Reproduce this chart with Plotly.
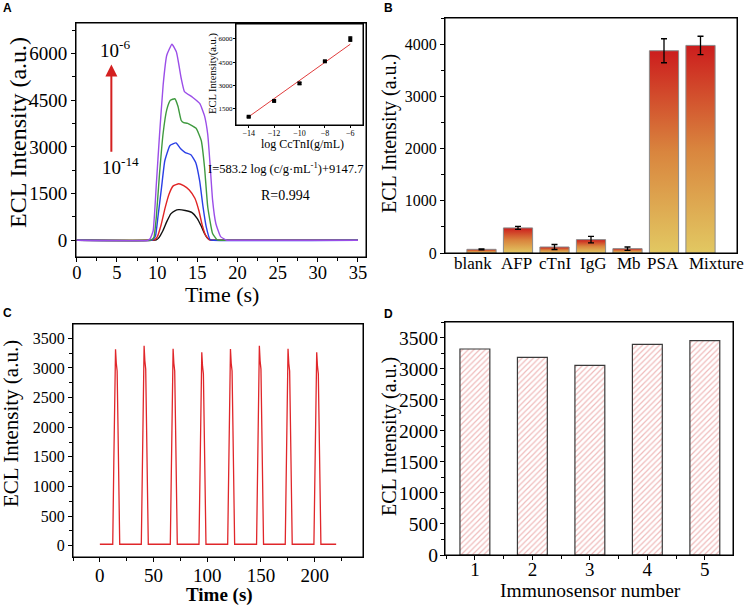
import plotly.graph_objects as go

# ---------------- Panel A: ECL curves at different cTnI concentrations ----------------
a_black_t = [0, 9.5, 9.9, 10.2, 10.7, 11.2, 11.7, 12.2, 12.7, 13.5, 14.3, 15.0, 15.5, 15.9, 16.3, 16.8, 17.2, 35]
a_black_v = [0, 0, 15, 80, 300, 600, 850, 950, 985, 960, 900, 700, 450, 220, 60, 8, 0, 0]
a_red_t = [0, 9.3, 9.7, 10.0, 10.5, 11.0, 11.5, 12.0, 12.7, 13.3, 14.0, 14.7, 15.2, 15.6, 16.0, 16.5, 16.9, 35]
a_red_v = [0, 0, 20, 100, 500, 1050, 1500, 1750, 1820, 1760, 1620, 1350, 950, 500, 180, 10, 0, 0]
a_blue_t = [0, 9.2, 9.5, 9.8, 10.1, 10.55, 10.95, 11.6, 12.35, 12.9, 13.5, 14.2, 14.8, 15.3, 15.7, 16.1, 16.6, 17.0, 35]
a_blue_v = [0, 0, 30, 150, 750, 1700, 2550, 3050, 3130, 2950, 2820, 2750, 2500, 1900, 1100, 450, 20, 0, 0]
a_green_t = [0, 9.0, 9.3, 9.6, 9.9, 10.3, 10.75, 11.2, 11.65, 12.2, 12.6, 13.0, 13.3, 13.8, 14.85, 15.5, 15.9, 16.3, 16.9, 17.5, 17.9, 35]
a_green_v = [0, 0, 20, 100, 750, 2150, 3450, 4200, 4500, 4550, 4300, 3850, 3780, 3760, 3600, 3200, 2350, 1070, 220, 10, 0, 0]
a_purple_t = [0, 8.8, 9.1, 9.5, 9.9, 10.3, 10.75, 11.2, 11.85, 12.4, 13.0, 13.4, 14.4, 15.3, 15.9, 16.3, 16.6, 16.9, 17.3, 17.9, 18.6, 19.0, 35]
a_purple_v = [0, 0, 40, 300, 1800, 3400, 5000, 5950, 6300, 6050, 5200, 4780, 4600, 4400, 4000, 3400, 2400, 1300, 550, 120, 10, 0, 0]

# inset calibration
inset_logc = [-14, -12, -10, -8, -6]
inset_int = [980, 2000, 3130, 4550, 5980]
inset_err = [40, 50, 60, 40, 150]
fit_logc = [-14, -6]
fit_int = [980, 5650]

# ---------------- Panel B: selectivity ----------------
b_categories = ["blank", "AFP", "cTnI", "IgG", "Mb", "PSA", "Mixture"]
b_values = [70, 480, 115, 256, 83, 3873, 3975]
b_errors = [10, 29, 48, 64, 32, 230, 176]

# ---------------- Panel C: stability ----------------
c_time = [0,
          12.0, 13.0, 14.0, 14.6, 15.3, 16.1, 16.9, 17.7, 18.5,
          38.6, 39.6, 40.6, 41.2, 41.9, 42.7, 43.5, 44.3, 45.1,
          65.6, 66.6, 67.6, 68.2, 68.9, 69.7, 70.5, 71.3, 72.1,
          92.3, 93.3, 94.3, 94.9, 95.6, 96.4, 97.2, 98.0, 98.8,
          119.0, 120.0, 121.0, 121.6, 122.3, 123.1, 123.9, 124.7, 125.5,
          145.9, 146.9, 147.9, 148.5, 149.2, 150.0, 150.8, 151.6, 152.4,
          172.6, 173.6, 174.6, 175.2, 175.9, 176.7, 177.5, 178.3, 179.1,
          199.3, 200.3, 201.3, 201.9, 202.6, 203.4, 204.2, 205.0, 205.8,
          220]
c_int = [25,
         25, 1400, 2950, 3315, 3080, 2950, 2000, 600, 25,
         25, 1400, 3000, 3376, 3120, 2980, 2000, 600, 25,
         25, 1400, 2950, 3325, 3080, 2950, 2000, 600, 25,
         25, 1400, 2900, 3265, 3030, 2900, 1950, 600, 25,
         25, 1400, 2950, 3320, 3080, 2950, 2000, 600, 25,
         25, 1400, 3000, 3376, 3120, 2980, 2000, 600, 25,
         25, 1400, 2950, 3325, 3080, 2950, 2000, 600, 25,
         25, 1400, 2900, 3265, 3030, 2900, 1950, 600, 25,
         25]

# ---------------- Panel D: reproducibility ----------------
d_sensor = [1, 2, 3, 4, 5]
d_int = [3318, 3184, 3055, 3393, 3452]

SERIF = "Liberation Serif"
SANS = "Liberation Sans"

fig = go.Figure()

# Panel A traces
for t, v, col in [(a_black_t, a_black_v, "#111111"), (a_red_t, a_red_v, "#e02424"),
                  (a_blue_t, a_blue_v, "#2a3fe6"), (a_green_t, a_green_v, "#3f9a3f"),
                  (a_purple_t, a_purple_v, "#9b4ee8")]:
    fig.add_trace(go.Scatter(x=t, y=v, mode="lines", line=dict(color=col, width=1.4, shape="spline", smoothing=0.4),
                             xaxis="x", yaxis="y", showlegend=False))

# Inset
fig.add_trace(go.Scatter(x=fit_logc, y=fit_int, mode="lines", line=dict(color="#e03c3c", width=1),
                         xaxis="x2", yaxis="y2", showlegend=False))
fig.add_trace(go.Scatter(x=inset_logc, y=inset_int, mode="markers",
                         marker=dict(symbol="square", size=4, color="black"),
                         error_y=dict(type="data", array=inset_err, color="black", thickness=1, width=2),
                         xaxis="x2", yaxis="y2", showlegend=False))

# Panel B gradient bars
bw = 0.8
for i, v in enumerate(b_values):
    fig.add_trace(go.Scatter(x=[i - bw / 2, i - bw / 2, i + bw / 2, i + bw / 2, i - bw / 2],
                             y=[0, v, v, 0, 0], mode="lines", fill="toself",
                             line=dict(color="#8a8a8a", width=1),
                             fillgradient=dict(type="vertical",
                                               colorscale=[[0, "#e2c862"], [0.5, "#d9853e"], [1, "#cc1d1d"]]),
                             xaxis="x3", yaxis="y3", showlegend=False, hoverinfo="skip"))
fig.add_trace(go.Scatter(x=list(range(len(b_values))), y=b_values, mode="markers",
                         marker=dict(size=1, color="rgba(0,0,0,0)"),
                         error_y=dict(type="data", array=b_errors, color="black", thickness=1.3, width=3),
                         xaxis="x3", yaxis="y3", showlegend=False))

# Panel C
fig.add_trace(go.Scatter(x=c_time, y=c_int, mode="lines", line=dict(color="#e0262a", width=1.3),
                         xaxis="x4", yaxis="y4", showlegend=False))

# Panel D
fig.add_trace(go.Bar(x=d_sensor, y=d_int, width=0.52,
                     marker=dict(color="white", line=dict(color="#3a3a3a", width=1.2),
                                 pattern=dict(shape="/", fgcolor="#e07878", bgcolor="white", size=4, solidity=0.3)),
                     xaxis="x5", yaxis="y5", showlegend=False))


def ax(domain, anchor, rng, tickfont, **kw):
    d = dict(domain=domain, anchor=anchor, range=rng, showline=True, linecolor="black", linewidth=1,
             mirror=True, ticks="outside", ticklen=4, tickcolor="black", showgrid=False, zeroline=False,
             tickfont=dict(family=SERIF, size=tickfont, color="black"), automargin=False)
    d.update(kw)
    return d


W, H = 747, 606
def px(x0, x1):
    return [x0 / W, x1 / W]
def py(top, bottom):
    return [1 - bottom / H, 1 - top / H]

def mn(dt, t0=0):
    return dict(ticks="outside", ticklen=3, dtick=dt, tick0=t0, tickcolor="black", showgrid=False)

fig.update_layout(
    width=W, height=H, margin=dict(l=0, r=0, t=0, b=0),
    paper_bgcolor="white", plot_bgcolor="white",
    font=dict(family=SERIF, color="black"),
    xaxis=ax(px(76, 366), "y", [-0.1, 36], 18.5, tickvals=[0, 5, 10, 15, 20, 25, 30, 35], minor=mn(2.5),
             ticklabelstandoff=-5),
    yaxis=ax(py(23, 257), "x", [-536, 6984], 19, tickvals=[0, 1500, 3000, 4500, 6000], minor=mn(750)),
    xaxis2=ax(px(236, 363), "y2", [-15, -5], 8, tickvals=[-14, -12, -10, -8, -6], ticklen=2,
              ticklabelstandoff=-2),
    yaxis2=ax(py(24, 125), "x2", [450, 6950], 7, tickvals=[1500, 3000, 4500, 6000], ticklen=2,
              ticklabelstandoff=-1),
    xaxis3=ax(px(445, 737), "y3", [-1, 7], 17, tickvals=list(range(len(b_categories))),
              showticklabels=False, ticks=""),
    yaxis3=ax(py(18, 253), "x3", [0, 4500], 16, tickvals=[0, 1000, 2000, 3000, 4000], minor=mn(500)),
    xaxis4=ax(px(73, 363), "y4", [-25, 245], 19, tickvals=[0, 50, 100, 150, 200], minor=mn(25),
              ticklabelstandoff=-3),
    yaxis4=ax(py(324, 557), "x4", [-190, 3742], 16, tickvals=[0, 500, 1000, 1500, 2000, 2500, 3000, 3500],
              minor=mn(250)),
    xaxis5=ax(px(445, 733), "y5", [0.48, 5.49], 19, tickvals=[1, 2, 3, 4, 5], minor=mn(0.5, 0.5),
              ticklabelstandoff=-7),
    yaxis5=ax(py(322, 555), "x5", [0, 3753], 19.5, tickvals=[0, 500, 1000, 1500, 2000, 2500, 3000, 3500],
              minor=mn(250), ticklabelstandoff=-2),
)

# frames around each plot area
shapes = []
for xa, ya in [("x", "y"), ("x2", "y2"), ("x3", "y3"), ("x4", "y4"), ("x5", "y5")]:
    shapes.append(dict(type="rect", xref=xa + " domain", yref=ya + " domain", x0=0, x1=1, y0=0, y1=1,
                       line=dict(color="black", width=1), fillcolor="rgba(0,0,0,0)", layer="above"))
fig.update_layout(shapes=shapes)

ann = []
def txt(text, x, y, size, angle=0, family=SERIF, xref="paper", yref="paper", **kw):
    d = dict(text=text, x=x, y=y, xref=xref, yref=yref, showarrow=False, textangle=angle,
             font=dict(family=family, size=size, color="black"), xanchor="center", yanchor="middle")
    d.update(kw)
    ann.append(d)

# panel letters
txt("<b>A</b>", 7 / W, 1 - 8 / H, 12, family=SANS)
txt("<b>B</b>", 388 / W, 1 - 8 / H, 12, family=SANS)
txt("<b>C</b>", 7 / W, 1 - 313 / H, 12, family=SANS)
txt("<b>D</b>", 388 / W, 1 - 314 / H, 12, family=SANS)

# axis titles
txt("ECL Intensity (a.u.)", 18 / W, 1 - 133 / H, 24, angle=-90)
txt("Time (s)", 222 / W, 1 - 294 / H, 22)
txt("ECL Intensity(a.u.)", 213 / W, 1 - 74 / H, 10.5, angle=-90)
txt("log CcTnI(g/mL)", 302 / W, 1 - 144 / H, 12)
txt("ECL Intensity (a.u.)", 389 / W, 1 - 134 / H, 20, angle=-90)
txt("ECL Intensity (a.u.)", 11 / W, 1 - 424 / H, 21, angle=-90)
txt("<b>Time (s)</b>", 219 / W, 1 - 595 / H, 19)
txt("ECL Intensity (a.u.)", 389 / W, 1 - 437 / H, 20, angle=-90)
txt("Immunosensor number", 590 / W, 1 - 590 / H, 19.5)

# panel B category labels
b_label_px = [473, 516, 555, 593, 629, 663, 716]
for lab, xp in zip(b_categories, b_label_px):
    txt(lab, xp / W, 1 - 263 / H, 17)

# panel A texts
txt("10<sup>-6</sup>", 4.8, 6150, 19, xref="x", yref="y")
txt("10<sup>-14</sup>", 5.4, 2400, 19, xref="x", yref="y")
txt("I=583.2 log (c/g·mL<sup>-1</sup>)+9147.7", 26.0, 2310, 12.5, xref="x", yref="y")
txt("R=0.994", 26.0, 1440, 14, xref="x", yref="y")
ann.append(dict(x=4.3, y=5650, ax=4.3, ay=2800, xref="x", yref="y", axref="x", ayref="y",
                showarrow=True, arrowhead=2, arrowsize=1.2, arrowwidth=2, arrowcolor="#d42020", text=""))

fig.update_layout(annotations=ann)
fig.write_html("out.html", config={"displayModeBar": False},
               post_script="document.body.style.margin='0px';document.body.style.padding='0px';")
